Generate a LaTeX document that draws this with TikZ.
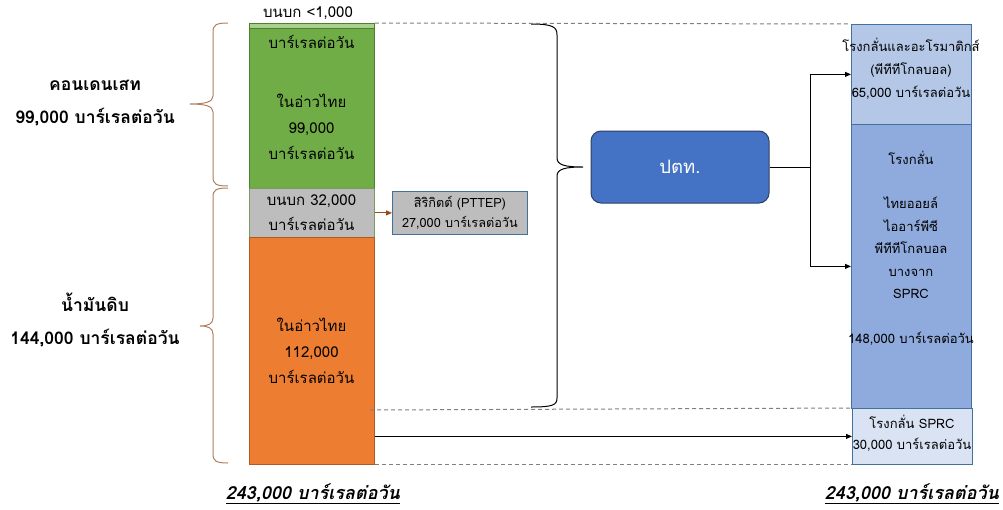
\documentclass[tikz,border=0pt]{standalone}
\usepackage{fontspec}
\setmainfont[Script=Thai]{Loma}
\usetikzlibrary{arrows.meta}
\definecolor{lgreen}{HTML}{A9D18E}
\definecolor{cgreen}{HTML}{70AD47}
\definecolor{cgreenb}{HTML}{507E32}
\definecolor{cgray}{HTML}{BDBDBD}
\definecolor{corange}{HTML}{ED7D31}
\definecolor{corangeb}{HTML}{AE5A21}
\definecolor{pttblue}{HTML}{4472C4}
\definecolor{pttborder}{HTML}{2F3F5F}
\definecolor{rtopc}{HTML}{B4C7E7}
\definecolor{rmidc}{HTML}{8FAADC}
\definecolor{rbotc}{HTML}{DAE3F3}
\definecolor{rborder}{HTML}{41719C}
\definecolor{bracebrown}{HTML}{B08060}
\definecolor{arrbrown}{HTML}{9C4A1A}
\definecolor{dashgray}{HTML}{808080}
\tikzset{
  barbox/.style={draw, line width=0.8pt, minimum width=125pt, anchor=north west, inner sep=0pt},
  rbox/.style={draw=rborder, line width=0.8pt, minimum width=120pt, anchor=north west, inner sep=0pt},
  txt/.style={inner sep=0pt, align=center, font=\fontsize{15}{26}\selectfont},
  rtxt/.style={inner sep=0pt, align=center, font=\fontsize{13}{23}\selectfont},
  lbl/.style={inner sep=0pt, align=center, font=\fontsize{17.5}{20}\selectfont\bfseries},
  totl/.style={inner sep=0pt, font=\fontsize{18}{20}\selectfont\bfseries\itshape},
  dline/.style={dashgray, line width=1pt, dash pattern=on 4pt off 3pt},
  arr/.style={line width=0.9pt, -{Triangle[length=6pt,width=5pt]}},
  bracel/.style={bracebrown, line width=1pt},
  braceb/.style={black, line width=1pt}
}
\begin{document}
\begin{tikzpicture}[x=1pt,y=-1pt]
\useasboundingbox (0,0) rectangle (1003,509);
% left bar
\node[barbox, draw=cgreenb, fill=lgreen, minimum height=5pt] (strip) at (249,23) {};
\node[barbox, draw=cgreenb, fill=cgreen, minimum height=160pt] (cond) at (249,28) {};
\node[barbox, draw=cgreen!60!gray, fill=cgray, minimum height=49pt] (gray) at (249,188) {};
\node[barbox, draw=corangeb, fill=corange, minimum height=227pt] (orng) at (249,237) {};
% left bar texts
\node[txt] (t1) at (308,13) {บนบก <1,000};
\node[txt] (t2) at (311.5,42) {บาร์เรลต่อวัน};
\node[txt] (t3) at (311.5,127) {ในอ่าวไทย\\99,000\\บาร์เรลต่อวัน};
\node[txt, font=\fontsize{15}{25}\selectfont] (t4) at (311.5,212.5) {บนบก 32,000\\บาร์เรลต่อวัน};
\node[txt] (t5) at (311.5,351) {ในอ่าวไทย\\112,000\\บาร์เรลต่อวัน};
% left braces
\draw[bracel] (228,23) .. controls (216,23) and (213,25) .. (213,32) -- (213,96)
  .. controls (213,102) and (205,104) .. (190,104)
  .. controls (205,104) and (213,106) .. (213,112) -- (213,177)
  .. controls (213,184) and (216,186) .. (228,186);
\draw[bracel] (228,188) .. controls (216,188) and (213,190) .. (213,197) -- (213,318)
  .. controls (213,324) and (208,326) .. (200,326)
  .. controls (208,326) and (213,328) .. (213,334) -- (213,454)
  .. controls (213,461) and (216,463) .. (228,463);
\node[lbl] (l1) at (95,85) {คอนเดนเสท};
\node[lbl] (l2) at (95,117) {99,000 บาร์เรลต่อวัน};
\node[lbl] (l3) at (95,302) {น้ำมันดิบ};
\node[lbl] (l4) at (95,338) {144,000 บาร์เรลต่อวัน};
% PTTEP
\node[draw=rborder, fill=cgray, line width=0.8pt, minimum width=135pt, minimum height=43pt, anchor=north west, inner sep=0pt] (pttep) at (392,191) {};
\node[inner sep=0pt, align=center, font=\fontsize{12.7}{20}\selectfont] (pttept) at (pttep.center) {สิริกิตต์ (PTTEP)\\27,000 บาร์เรลต่อวัน};
\draw[arrbrown, line width=0.9pt, -{Triangle[length=6pt,width=5pt]}] (gray.east) -- (pttep.west);
% big brace
\draw[braceb] (531,24) .. controls (553,24) and (557,27) .. (557,35) -- (557,158)
  .. controls (557,165) and (565,167) .. (583,167)
  .. controls (565,167) and (557,169) .. (557,176) -- (557,398)
  .. controls (557,405) and (553,407) .. (531,407);
% PTT
\node[draw=pttborder, fill=pttblue, line width=1pt, rounded corners=10pt, minimum width=178pt, minimum height=72pt, text=white, font=\fontsize{18.5}{20}\selectfont] (ptt) at (680,167) {ปตท.};
% right boxes
\node[rbox, fill=rtopc, minimum height=100pt] (rtop) at (851,24) {};
\node[rbox, fill=rmidc, minimum height=284pt] (rmid) at (851,124) {};
\node[rbox, fill=rbotc, minimum height=56pt] (rbot) at (852,408) {};
\node[rtxt] (rt1) at (911,69) {โรงกลั่นและอะโรมาติกส์\\(พีทีทีโกลบอล)\\65,000 บาร์เรลต่อวัน};
\node[rtxt] (rm1) at (911,158) {โรงกลั่น};
\node[rtxt, font=\fontsize{13}{22.5}\selectfont] (rm2) at (911,248) {ไทยออยล์\\ไออาร์พีซี\\พีทีทีโกลบอล\\บางจาก\\SPRC};
\node[rtxt] (rm3) at (911,339) {148,000 บาร์เรลต่อวัน};
\node[rtxt, font=\fontsize{13}{21}\selectfont] (rb1) at (912,433.5) {โรงกลั่น SPRC\\30,000 บาร์เรลต่อวัน};
% connectors
\coordinate (jn) at (810,167);
\draw[arr] (ptt.east) -- (jn) |- (rtop.west);
\draw[arr] (jn) |- (rmid.west);
\draw[arr] (orng.east |- rbot.west) -- (rbot.west);
% dashed lines
\draw[dline] (strip.north east) -- (rtop.north west);
\coordinate (dstart) at (370,410);
\draw[dline] (dstart) -- (rbot.north west);
\draw[dline] (orng.south east) -- (rbot.south west);
% totals
\node[totl] (tot1) at (313,494) {\underline{243,000 บาร์เรลต่อวัน}};
\node[totl] (tot2) at (912,494) {\underline{243,000 บาร์เรลต่อวัน}};
\end{tikzpicture}
\end{document}
